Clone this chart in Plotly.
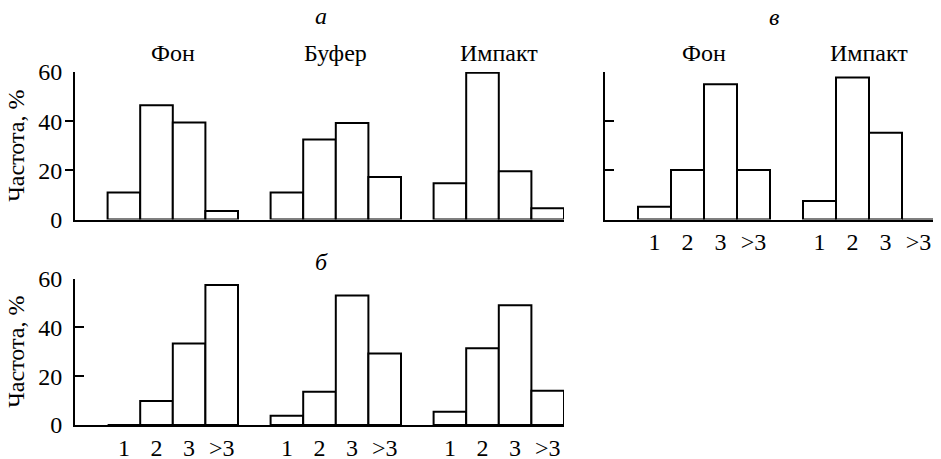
import plotly.graph_objects as go

# ---- data ----
categories = ["1", "2", "3", ">3"]
a_groups = ["Фон", "Буфер", "Импакт"]
a_fon = [11.0, 46.5, 39.5, 3.5]
a_bufer = [11.0, 32.5, 39.3, 17.3]
a_impakt = [14.7, 59.7, 19.6, 4.6]

b_groups = ["Фон", "Буфер", "Импакт"]
b_fon = [0.0, 9.8, 33.4, 57.3]
b_bufer = [3.8, 13.6, 53.0, 29.3]
b_impakt = [5.4, 31.4, 49.0, 14.0]

v_groups = ["Фон", "Импакт"]
v_fon = [5.2, 20.1, 54.9, 20.1]
v_impakt = [7.5, 57.6, 35.2, 0.0]

y_ticks = [0, 20, 40, 60]
y_title = "Частота, %"
panel_labels = ["а", "б", "в"]

W, H = 941, 459
OFF = 8  # page body margin of the html page
FONT = "Liberation Serif"
FS = 24

def fx(px):
    return (px - OFF) / W

def fy(px):
    return (H - (px - OFF)) / H

panels = [
    dict(key="a", groups=a_groups, series=[a_fon, a_bufer, a_impakt], xdom=[fx(75), fx(564)], ydom=[fy(219.5), fy(72)],
         xlabels=False, ylabels=True, titles=True, label=panel_labels[0], label_x=321, label_y=16, standoff=0),
    dict(key="b", groups=b_groups, series=[b_fon, b_bufer, b_impakt], xdom=[fx(75), fx(564)], ydom=[fy(425), fy(278.5)],
         xlabels=True, ylabels=True, titles=False, label=panel_labels[1], label_x=321, label_y=262, standoff=0),
    dict(key="v", groups=v_groups, series=[v_fon, v_impakt], xdom=[fx(605), fx(935)], ydom=[fy(219.5), fy(71.7)],
         xlabels=True, ylabels=False, titles=True, label=panel_labels[2], label_x=774, label_y=17, standoff=0),
]

fig = go.Figure()
layout = dict(
    width=W, height=H, margin=dict(l=0, r=0, t=0, b=0),
    paper_bgcolor="white", plot_bgcolor="white", showlegend=False,
    font=dict(family=FONT, size=FS, color="black"),
)
annotations = []
axis_n = 1
for p in panels:
    xn, yn = axis_n, axis_n
    xa = "x" if xn == 1 else f"x{xn}"
    ya = "y" if yn == 1 else f"y{yn}"
    ngroups = len(p["groups"])
    tickvals, ticktext = [], []
    for g, (gname, vals) in enumerate(zip(p["groups"], p["series"])):
        xs = [g * 5 + c + 1 for c in range(len(categories))]
        tickvals += xs
        ticktext += categories
        fig.add_trace(go.Bar(
            x=xs, y=vals, width=1, name=gname, xaxis=xa, yaxis=ya,
            marker=dict(color="white", line=dict(color="black", width=2)),
        ))
        if p["titles"]:
            annotations.append(dict(
                text=gname, x=g * 5 + 2.5, y=fy(53), xref=xa, yref="paper",
                showarrow=False, xanchor="center", yanchor="middle",
                font=dict(family=FONT, size=FS),
            ))
    xr = [-0.5, ngroups * 5 - 0.5]
    layout["xaxis" if xn == 1 else f"xaxis{xn}"] = dict(
        domain=p["xdom"], anchor=ya, range=xr, showline=True, linecolor="black", linewidth=2,
        showgrid=False, zeroline=False, ticks="", tickmode="array", tickvals=tickvals, ticktext=ticktext,
        showticklabels=p["xlabels"], ticklabelstandoff=p["standoff"], tickfont=dict(family=FONT, size=FS),
        automargin=False, fixedrange=True,
    )
    yticks_dir = "" if p["key"] == "a" else "inside"
    layout["yaxis" if yn == 1 else f"yaxis{yn}"] = dict(
        domain=p["ydom"], anchor=xa, range=[0, 60], showline=True, linecolor="black", linewidth=2,
        showgrid=False, zeroline=False, ticks=yticks_dir, ticklen=9, tickwidth=2, tickcolor="black",
        tickmode="array", tickvals=y_ticks, showticklabels=p["ylabels"], ticklabelstandoff=6,
        tickfont=dict(family=FONT, size=FS), automargin=False, fixedrange=True,
    )
    if p["ylabels"]:
        annotations.append(dict(
            text=y_title, x=fx(16), y=sum(p["ydom"]) / 2, xref="paper", yref="paper",
            textangle=-90, showarrow=False, xanchor="center", yanchor="middle",
            font=dict(family=FONT, size=FS),
        ))
    annotations.append(dict(
        text=f"<i>{p['label']}</i>", x=fx(p["label_x"]), y=fy(p["label_y"]), xref="paper", yref="paper",
        showarrow=False, xanchor="center", yanchor="middle", font=dict(family=FONT, size=FS),
    ))
    axis_n += 1

# panel a: ticks 20/40 point outward, tick 60 points inward (overlay axes)
extra = [([20, 40], "outside"), ([60], "inside")]
for vals, direction in extra:
    name = f"y{axis_n}"
    fig.add_trace(go.Scatter(x=[], y=[], xaxis="x", yaxis=name, hoverinfo="skip"))
    layout[f"yaxis{axis_n}"] = dict(
        overlaying="y", anchor="x", side="left", range=[0, 60], showline=False, showgrid=False,
        zeroline=False, ticks=direction, ticklen=9, tickwidth=2, tickcolor="black",
        tickmode="array", tickvals=vals, showticklabels=False, automargin=False, fixedrange=True,
    )
    axis_n += 1

layout["annotations"] = annotations
fig.update_layout(**layout)
fig.write_html("out.html")
